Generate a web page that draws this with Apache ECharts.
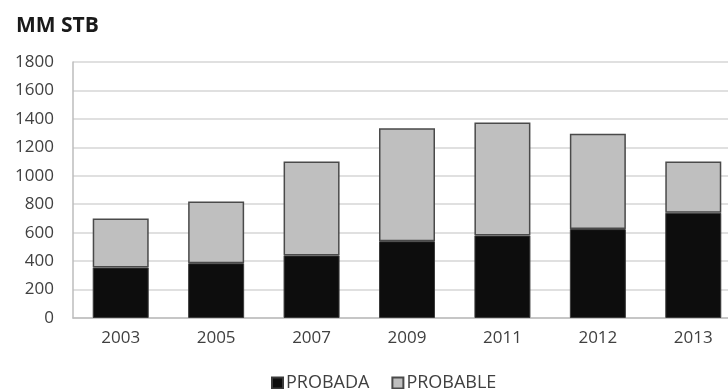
<!DOCTYPE html>
<html>
<head>
<meta charset="utf-8">
<style>
  html, body { margin: 0; padding: 0; background: #fff; }
  #chart { width: 728px; height: 389px; }
</style>
<script src="https://cdn.jsdelivr.net/npm/echarts@6/dist/echarts.min.js"></script>
</head>
<body>
<div id="chart"></div>
<script>
// Reserves by year, MM STB
const years = ['2003', '2005', '2007', '2009', '2011', '2012', '2013'];
const probada = [355, 385, 440, 540, 580, 625, 740];
const probable = [345, 435, 660, 795, 795, 670, 360];
const yTicks = [0, 200, 400, 600, 800, 1000, 1200, 1400, 1600, 1800];

const chart = echarts.init(document.getElementById('chart'));
const font = "'Open Sans', 'Liberation Sans', sans-serif";

chart.setOption({
  animation: false,
  title: {
    text: 'MM STB',
    left: 11,
    top: 11,
    textStyle: { fontFamily: font, fontSize: 21, fontWeight: 'bold', color: '#1a1a1a' }
  },
  legend: {
    left: 266,
    top: 369,
    itemWidth: 11,
    itemHeight: 11,
    itemGap: 22,
    icon: 'rect',
    textStyle: { fontFamily: font, fontSize: 18, color: '#404040', padding: [0, 0, 0, -2] },
    data: ['PROBADA', 'PROBABLE']
  },
  grid: { left: 73, top: 62, width: 668, height: 256, outerBoundsMode: 'none' },
  xAxis: {
    type: 'category',
    data: years,
    axisLine: { lineStyle: { color: '#bdbdbd', width: 1.5 } },
    axisTick: { show: false },
    axisLabel: { fontFamily: font, fontSize: 17, color: '#404040', margin: 12 }
  },
  yAxis: {
    type: 'value',
    min: yTicks[0],
    max: yTicks[yTicks.length - 1],
    interval: 200,
    axisLine: { show: true, lineStyle: { color: '#bdbdbd', width: 1.5 } },
    axisTick: { show: false },
    axisLabel: {
      fontFamily: font, fontSize: 17, color: '#404040', margin: 19,
      formatter: (v) => String(v)
    },
    splitLine: { lineStyle: { color: '#d6d6d6', width: 1.5 } }
  },
  series: [
    {
      name: 'PROBADA',
      type: 'bar',
      stack: 'total',
      barWidth: 56,
      data: probada,
      itemStyle: { color: '#0d0d0d', borderColor: '#3a3a3a', borderWidth: 1 }
    },
    {
      name: 'PROBABLE',
      type: 'bar',
      stack: 'total',
      barWidth: 56,
      data: probable,
      itemStyle: { color: '#bfbfbf', borderColor: '#4a4a4a', borderWidth: 1.5 }
    }
  ]
});
</script>
</body>
</html>
